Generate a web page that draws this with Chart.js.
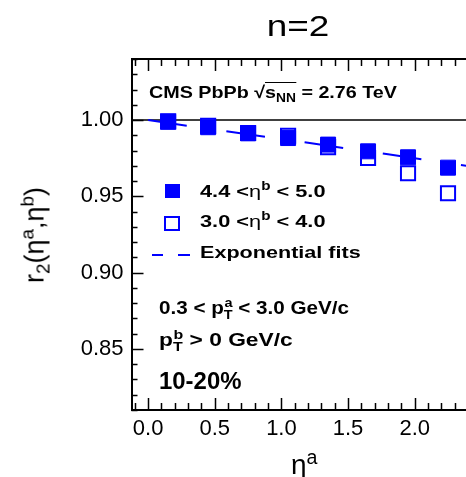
<!DOCTYPE html>
<html>
<head>
<meta charset="utf-8">
<script src="https://cdn.jsdelivr.net/npm/chart.js@4"></script>
<style>
    body { margin: 0; background: #fff; }
    #wrap { position: relative; width: 466px; height: 477px; overflow: hidden; font-family: 'Liberation Sans', Arial, sans-serif; color: #000; }
    #chart { position: absolute; left: 0; top: 0; }
    .lbl { position: absolute; white-space: nowrap; line-height: 1; transform-origin: left center; }
    .b { font-weight: bold; }
    .lbl sup, .lbl sub { font-size: 70%; line-height: 0; }
    .eta { font-weight: normal; }
    .mk { position: absolute; box-sizing: border-box; }
</style>
</head>
<body>
<div id="wrap">
    <canvas id="chart" width="466" height="477"></canvas>

    <div class="lbl" style="left:298px; top:11px; font-size:30px; transform-origin:center; transform:translateX(-50%) scaleX(1.23);">n=2</div>

    <div class="lbl b" style="left:149px; top:84px; font-size:17px; transform:scaleX(1.16);">CMS PbPb √<span style="border-top:1.5px solid #000;">s<sub>NN</sub></span> = 2.76 TeV</div>

    <!-- legend -->
    <div class="mk" style="left:165px; top:184px; width:15px; height:14px; background:#0000ff;"></div>
    <div class="lbl b" style="left:200px; top:183px; font-size:17px; transform:scaleX(1.28);">4.4 &lt;<span class="eta">η</span><sup>b</sup> &lt; 5.0</div>
    <div class="mk" style="left:164px; top:216px; width:16px; height:15px; border:2px solid #0000ff;"></div>
    <div class="lbl b" style="left:200px; top:213px; font-size:17px; transform:scaleX(1.28);">3.0 &lt;<span class="eta">η</span><sup>b</sup> &lt; 4.0</div>
    <div class="mk" style="left:152px; top:254px; width:11px; height:2px; background:#0000ff;"></div>
    <div class="mk" style="left:178px; top:254px; width:12px; height:2px; background:#0000ff;"></div>
    <div class="lbl b" style="left:200px; top:244px; font-size:17px; transform:scaleX(1.27);">Exponential fits</div>

    <div class="lbl b" style="left:159px; top:300px; font-size:17.5px; transform:scaleX(1.18);">0.3 &lt; p<sub>T</sub><sup style="margin-left:-7px;">a</sup> &lt; 3.0 GeV/c</div>
    <div class="lbl b" style="left:159px; top:332px; font-size:17.5px; transform:scaleX(1.3);">p<sub>T</sub><sup style="margin-left:-7px;">b</sup> &gt; 0 GeV/c</div>
    <div class="lbl b" style="left:159px; top:370px; font-size:23px; transform:scaleX(1.04);">10-20%</div>

    <!-- axis titles -->
    <div class="lbl" style="left:35px; top:235px; font-size:27px; transform-origin:center; transform:translate(-50%,-50%) rotate(-90deg);">r<sub>2</sub>(η<sup>a</sup>,η<sup>b</sup>)</div>
    <div class="lbl" style="left:291px; top:451px; font-size:28px;">η<sup>a</sup></div>
</div>

<script>
// r2(eta_a, eta_b) for n=2, PbPb 10-20%
const etaA = [0.15, 0.45, 0.75, 1.05, 1.35, 1.65, 1.95, 2.25];
const r2Far = [0.9989, 0.9953, 0.9913, 0.9882, 0.9839, 0.9795, 0.9756, 0.9688];   // 4.4 < eta_b < 5.0
const r2Near = [0.9991, 0.9962, 0.9915, 0.9897, 0.9823, 0.9751, 0.9651, 0.9520];  // 3.0 < eta_b < 4.0
const fitEta = [0.0, 0.3, 0.6, 0.9, 1.2, 1.5, 1.8, 2.1, 2.4];
const fitFar = [1.000, 0.9962, 0.9925, 0.9887, 0.9851, 0.9812, 0.9776, 0.9737, 0.9698];
const xTicks = [0.0, 0.5, 1.0, 1.5, 2.0];
const yTicks = [0.85, 0.90, 0.95, 1.00];

const X_MIN = -0.125, X_MAX = 2.385;
const Y_MIN = 0.81, Y_MAX = 1.04;
const BLUE = '#0000ff';

const toPoints = (xs, ys) => xs.map((x, i) => ({ x: x, y: ys[i] }));

// frame on top, plus inward minor/major ticks like the ROOT style
const frameTicks = {
    id: 'frameTicks',
    afterDraw(chart) {
        const { ctx, chartArea: a, scales: { x, y } } = chart;
        ctx.save();
        ctx.strokeStyle = '#000';
        ctx.lineWidth = 2;
        ctx.beginPath();
        ctx.moveTo(a.left, a.top);
        ctx.lineTo(a.right, a.top);
        ctx.stroke();

        ctx.lineWidth = 1.5;
        ctx.beginPath();
        for (let i = -1; i <= 24; i++) {
            const v = i / 10;
            if (v < X_MIN || v > X_MAX) continue;
            const px = Math.round(x.getPixelForValue(v)) + 0.5;
            const len = i % 5 === 0 ? 12 : 7;
            ctx.moveTo(px, a.bottom);
            ctx.lineTo(px, a.bottom - len);
            ctx.moveTo(px, a.top);
            ctx.lineTo(px, a.top + len);
        }
        for (let i = 81; i <= 104; i++) {
            const py = Math.round(y.getPixelForValue(i / 100)) + 0.5;
            const len = i % 5 === 0 ? 12 : 6;
            ctx.moveTo(a.left, py);
            ctx.lineTo(a.left + len, py);
        }
        ctx.stroke();
        ctx.restore();
    }
};

new Chart(document.getElementById('chart'), {
    type: 'scatter',
    data: {
        datasets: [
            {
                label: '4.4 < eta_b < 5.0',
                data: toPoints(etaA, r2Far),
                pointStyle: 'rect',
                pointRadius: 10.6,
                backgroundColor: BLUE,
                borderColor: BLUE,
                borderWidth: 1
            },
            {
                label: '3.0 < eta_b < 4.0',
                data: toPoints(etaA, r2Near),
                pointStyle: 'rect',
                pointRadius: 10,
                backgroundColor: '#fff',
                borderColor: BLUE,
                borderWidth: 2
            },
            {
                label: 'Exponential fits',
                data: toPoints(fitEta, fitFar),
                showLine: true,
                pointRadius: 0,
                borderColor: BLUE,
                borderWidth: 2,
                borderDash: [39, 40]
            },
            {
                label: 'unity',
                data: toPoints([X_MIN, X_MAX], [1, 1]),
                showLine: true,
                pointRadius: 0,
                borderColor: '#000',
                borderWidth: 1.5
            }
        ]
    },
    options: {
        responsive: false,
        animation: false,
        events: [],
        layout: { autoPadding: false, padding: { left: 0, top: 59, right: 0, bottom: 0 } },
        plugins: {
            legend: { display: false },
            tooltip: { enabled: false }
        },
        scales: {
            x: {
                type: 'linear',
                min: X_MIN,
                max: X_MAX,
                afterBuildTicks: s => { s.ticks = xTicks.map(v => ({ value: v })); },
                afterFit: s => { s.height = 67; s.paddingLeft = 0; s.paddingRight = 0; },
                grid: { display: false, drawTicks: false },
                border: { display: true, color: '#000', width: 2 },
                ticks: {
                    padding: 6,
                    color: '#000',
                    font: { family: 'Liberation Sans', size: 22 },
                    callback: v => v.toFixed(1)
                }
            },
            y: {
                type: 'linear',
                min: Y_MIN,
                max: Y_MAX,
                afterBuildTicks: s => { s.ticks = yTicks.map(v => ({ value: v })); },
                afterFit: s => { s.width = 131.5; s.paddingTop = 0; s.paddingBottom = 0; },
                grid: { display: false, drawTicks: false },
                border: { display: true, color: '#000', width: 2 },
                ticks: {
                    padding: 8,
                    color: '#000',
                    font: { family: 'Liberation Sans', size: 22 },
                    callback: v => v.toFixed(2)
                }
            }
        }
    },
    plugins: [frameTicks]
});
</script>
</body>
</html>
